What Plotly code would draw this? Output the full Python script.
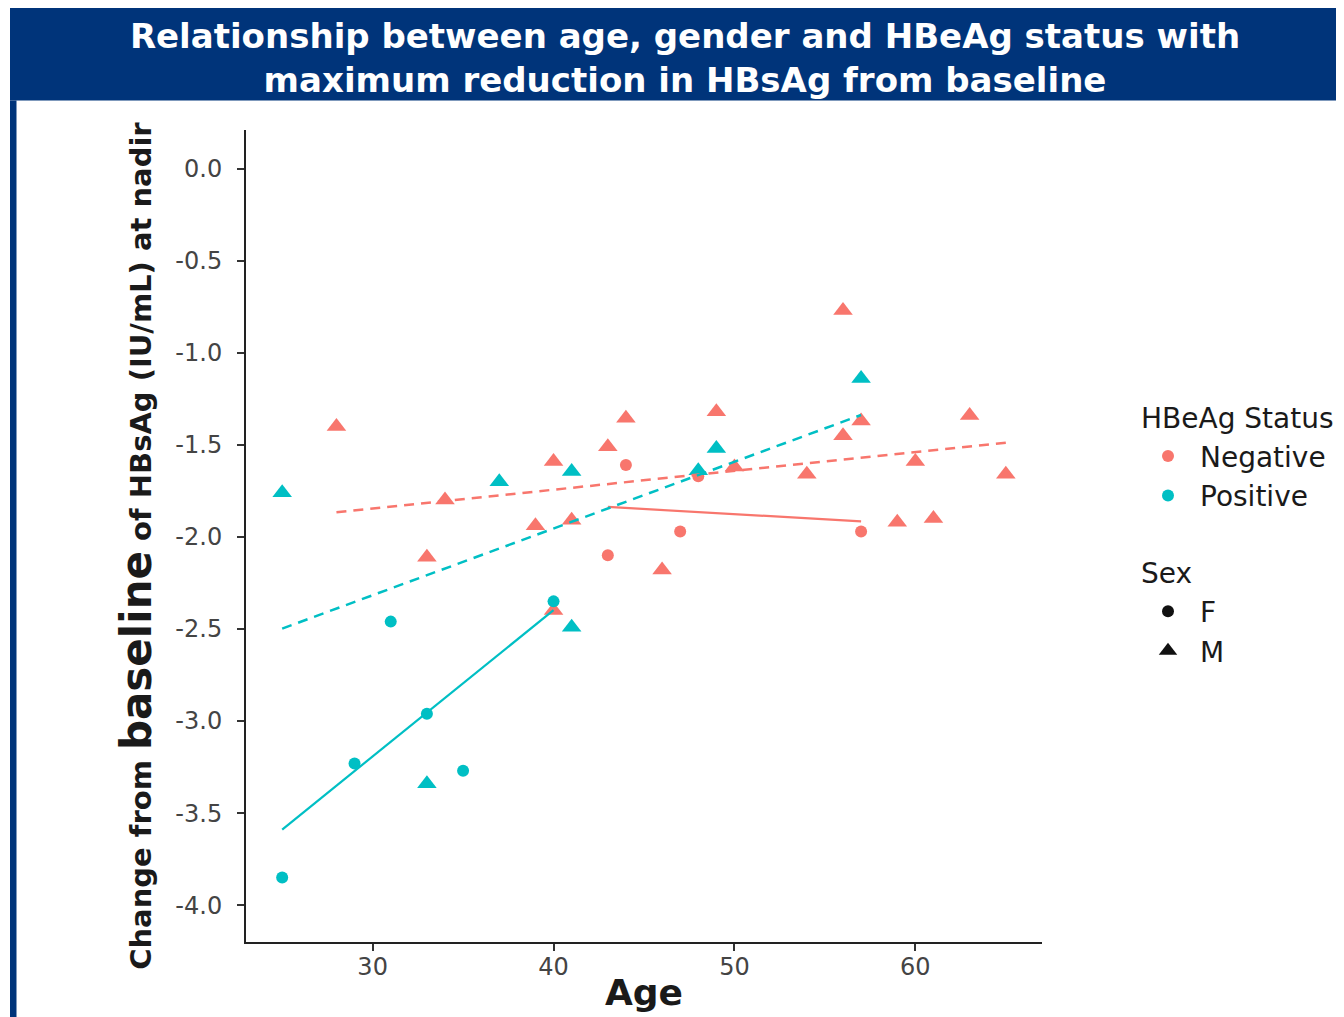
import numpy as np
import plotly.graph_objects as go

# ---- data ----
neg_f_age = [43, 44, 47, 48, 57]
neg_f_val = [-2.10, -1.61, -1.97, -1.67, -1.97]
neg_m_age = [28, 33, 34, 39, 40, 40, 41, 43, 44, 46, 49, 50, 54, 56, 56, 57, 59, 60, 61, 63, 65]
neg_m_val = [-1.40, -2.11, -1.80, -1.94, -1.59, -2.40, -1.91, -1.51, -1.355, -2.18,
             -1.32, -1.62, -1.66, -0.77, -1.45, -1.37, -1.92, -1.59, -1.90, -1.34, -1.66]
pos_f_age = [25, 29, 31, 33, 35, 40]
pos_f_val = [-3.85, -3.23, -2.46, -2.96, -3.27, -2.35]
pos_m_age = [25, 33, 37, 41, 41, 48, 49, 57]
pos_m_val = [-1.76, -3.34, -1.70, -1.645, -2.49, -1.64, -1.52, -1.14]

status_names = ["Negative", "Positive"]
sex_names = ["F", "M"]
y_tickvals = [0.0, -0.5, -1.0, -1.5, -2.0, -2.5, -3.0, -3.5, -4.0]
y_ticktext = ["0.0", "-0.5", "-1.0", "-1.5", "-2.0", "-2.5", "-3.0", "-3.5", "-4.0"]
x_tickvals = [30, 40, 50, 60]

NEG = "#F8766D"
POS = "#00BFC4"
NAVY = "#00347A"
FONT = "DejaVu Sans"
CIRC = 12
TRI = 17

groups = [
    (neg_f_age, neg_f_val, NEG, "circle", "solid"),
    (neg_m_age, neg_m_val, NEG, "triangle-up", "dash"),
    (pos_f_age, pos_f_val, POS, "circle", "solid"),
    (pos_m_age, pos_m_val, POS, "triangle-up", "dash"),
]

fig = go.Figure()

# points
for ages, vals, col, sym, _ in groups:
    fig.add_trace(go.Scatter(
        x=ages, y=vals, mode="markers", showlegend=False, hoverinfo="x+y",
        marker=dict(color=col, symbol=sym, size=CIRC if sym == "circle" else TRI,
                    line=dict(width=0)),
    ))

# linear fits per group
for ages, vals, col, sym, dash in groups:
    a = np.array(ages, dtype=float)
    v = np.array(vals, dtype=float)
    k, b = np.polyfit(a, v, 1)
    xs = np.array([a.min(), a.max()])
    fig.add_trace(go.Scatter(
        x=xs, y=k * xs + b, mode="lines", showlegend=False, hoverinfo="skip",
        line=dict(color=col, width=2.5 if dash == "dash" else 2.2,
                  dash="10px,7px" if dash == "dash" else "solid"),
    ))

# legend entries
for name, col in zip(status_names, [NEG, POS]):
    fig.add_trace(go.Scatter(
        x=[None], y=[None], mode="markers", name=name,
        legendgroup="status", legendgrouptitle=dict(text="HBeAg Status"),
        marker=dict(color=col, symbol="circle", size=CIRC),
    ))
for name, sym in zip(sex_names, ["circle", "triangle-up"]):
    fig.add_trace(go.Scatter(
        x=[None], y=[None], mode="markers", name=name,
        legendgroup="sex", legendgrouptitle=dict(text="Sex"),
        marker=dict(color="#111111", symbol=sym, size=CIRC if sym == "circle" else TRI),
    ))

# geometry (figure pixel coords; page has an 8px offset)
W, H = 1380, 1017
L, T = 238, 122
pw, ph = 796, 812
R = W - L - pw
B = H - T - ph
OFF = 8
def px_x(p):  # p in screenshot pixels
    return (p - OFF - L) / pw
def px_y(p):
    return (H - B - (p - OFF)) / ph

shapes = [
    dict(type="rect", xref="paper", yref="paper", layer="below",
         x0=px_x(10), x1=px_x(1400), y0=px_y(100.5), y1=px_y(0),
         fillcolor=NAVY, line=dict(width=0)),
    dict(type="rect", xref="paper", yref="paper", layer="below",
         x0=px_x(10), x1=px_x(16.5), y0=px_y(1030), y1=px_y(100.5),
         fillcolor=NAVY, line=dict(width=0)),
]

fig.update_layout(
    width=W, height=H,
    margin=dict(l=L, r=R, t=T, b=B),
    paper_bgcolor="white", plot_bgcolor="white",
    font=dict(family=FONT, color="#1a1a1a"),
    title=dict(
        text="Relationship between age, gender and HBeAg status with<br>maximum reduction in HBsAg from baseline",
        font=dict(family=FONT, size=34, color="white", weight="bold"),
        xref="container", x=(685 - OFF) / W, xanchor="center",
        yref="container", y=1 - 39.5 / H, yanchor="middle",
    ),
    shapes=shapes,
    xaxis=dict(
        range=[23, 67], tickvals=x_tickvals, showgrid=False, zeroline=False,
        showline=True, linecolor="#222222", linewidth=2,
        ticks="outside", ticklen=7, tickwidth=2, tickcolor="#333333",
        ticklabelstandoff=-5,
        tickfont=dict(family=FONT, size=24, color="#444444"),
        title=dict(text="Age", font=dict(family=FONT, size=36, color="#1a1a1a", weight="bold"),
                   standoff=0),
    ),
    yaxis=dict(
        range=[-4.2, 0.21], tickvals=y_tickvals, ticktext=y_ticktext,
        showgrid=False, zeroline=False,
        showline=True, linecolor="#222222", linewidth=2,
        ticks="outside", ticklen=7, tickwidth=2, tickcolor="#333333",
        ticklabelstandoff=10,
        tickfont=dict(family=FONT, size=24, color="#444444"),
        title=dict(
            text="Change from <span style='font-size:42px'>baseline</span> of HBsAg (IU/mL) at nadir&nbsp;&nbsp;",
            font=dict(family=FONT, size=29, color="#1a1a1a", weight="bold"),
            standoff=15,
        ),
    ),
    legend=dict(
        x=px_x(1136), y=px_y(392), xanchor="left", yanchor="top",
        font=dict(family=FONT, size=28, color="#1a1a1a"),
        grouptitlefont=dict(family=FONT, size=28, color="#1a1a1a"),
        tracegroupgap=37, traceorder="grouped", bgcolor="rgba(0,0,0,0)",
        itemwidth=54,
    ),
)

fig.write_html("out.html")
